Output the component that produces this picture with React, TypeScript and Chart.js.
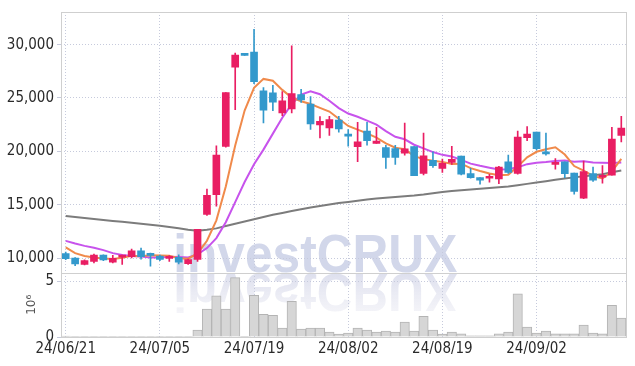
import React, { useEffect, useRef } from 'react';
import { Chart, registerables } from 'chart.js';

Chart.register(...registerables);

const dates = [
  '24/06/21', '24/06/24', '24/06/25', '24/06/26', '24/06/27', '24/06/28', '24/07/01', '24/07/02', '24/07/03', '24/07/04',
  '24/07/05', '24/07/08', '24/07/09', '24/07/10', '24/07/11', '24/07/12', '24/07/15', '24/07/16', '24/07/17', '24/07/18',
  '24/07/19', '24/07/22', '24/07/23', '24/07/24', '24/07/25', '24/07/26', '24/07/29', '24/07/30', '24/07/31', '24/08/01',
  '24/08/02', '24/08/05', '24/08/06', '24/08/07', '24/08/08', '24/08/09', '24/08/12', '24/08/13', '24/08/14', '24/08/16',
  '24/08/19', '24/08/20', '24/08/21', '24/08/22', '24/08/23', '24/08/26', '24/08/27', '24/08/28', '24/08/29', '24/08/30',
  '24/09/02', '24/09/03', '24/09/04', '24/09/05', '24/09/06', '24/09/09', '24/09/10', '24/09/11', '24/09/12', '24/09/13',
];

const opens = [
  10420, 10000, 9410, 9690, 10280, 9600, 10090, 10120, 10680, 10300,
  10185, 9970, 10060, 9475, 9880, 14080, 15930, 20470, 27890, 29060,
  29300, 25670, 25480, 23600, 23970, 25330, 24430, 22480, 22200, 22920,
  21500, 20440, 21900, 20750, 20350, 20260, 19830, 20440, 17940, 19150,
  18400, 18960, 19550, 17910, 17540, 17480, 17420, 19020, 17940, 21280,
  21800, 19950, 18780, 19020, 17970, 15620, 17910, 17570, 17760, 21490,
];
const highs = [
  10550, 10050, 9820, 10370, 10310, 10250, 10280, 10830, 10930, 10460,
  10280, 10220, 10310, 9900, 12690, 16460, 20510, 25510, 29220, 29060,
  31440, 25980, 26190, 25600, 29900, 25820, 25140, 23260, 23290, 23290,
  22050, 22730, 22730, 22240, 20570, 20570, 22640, 20440, 21710, 19950,
  19270, 20480, 19550, 18400, 17540, 17850, 18590, 19640, 21900, 22330,
  21800, 21710, 19330, 19020, 17970, 19080, 18530, 18660, 22240, 23290,
];
const lows = [
  9850, 9290, 9350, 9540, 9750, 9540, 9410, 10000, 9900, 9230,
  9750, 9690, 9440, 9410, 9690, 13990, 14850, 20400, 23900, 29000,
  26350, 22670, 23810, 23350, 23600, 24580, 22050, 21250, 21500, 21800,
  20480, 19020, 20570, 20750, 18400, 18780, 19640, 17720, 17790, 18500,
  18030, 18780, 17790, 17480, 16920, 17110, 16980, 17940, 17850, 21000,
  20130, 19640, 18340, 17540, 15990, 15560, 17170, 17010, 17760, 20880,
];
const closes = [
  9950, 9440, 9750, 10280, 9815, 9970, 10280, 10680, 10120, 10250,
  9880, 10120, 9600, 9845, 12690, 15870, 19640, 25510, 29030, 29000,
  26530, 23870, 24620, 24740, 25420, 24830, 22580, 22820, 22980, 22110,
  21430, 20880, 21000, 20970, 19420, 19420, 20230, 17720, 19580, 18650,
  18870, 19240, 17850, 17540, 17290, 17660, 18530, 18030, 21340, 21620,
  20260, 19760, 18930, 17910, 16240, 18100, 17290, 17760, 21150, 22180,
];
const volumes = [
  80000, 70000, 20000, 30000, 20000, 20000, 20000, 60000, 30000, 20000,
  20000, 20000, 30000, 50000, 620000, 2500000, 3700000, 2500000, 5330000, 10000,
  3730000, 2040000, 1950000, 800000, 3200000, 710000, 800000, 800000, 440000, 260000,
  360000, 800000, 620000, 440000, 530000, 440000, 1330000, 530000, 1860000, 620000,
  270000, 440000, 290000, 100000, 100000, 100000, 290000, 440000, 3880000, 890000,
  360000, 530000, 290000, 290000, 290000, 1070000, 360000, 290000, 2840000, 1690000,
];
const ma5 = [
  10990, 10460, 10190, 10060, 9950, 9900, 10020, 10200, 10170, 10260,
  10240, 10210, 9990, 9940, 10430, 11620, 13530, 16710, 20550, 23820,
  25950, 26790, 26620, 25760, 25040, 24700, 24440, 24080, 23730, 23060,
  22380, 22040, 21680, 21280, 20740, 20340, 20210, 19550, 19270, 19120,
  19010, 18810, 18840, 18430, 18160, 17920, 17770, 17810, 18570, 19440,
  19960, 20200, 20380, 19700, 18620, 18190, 17690, 17460, 18110, 19300,
];
const ma10 = [
  11610, 11360, 11140, 10960, 10740, 10460, 10280, 10190, 10150, 10050,
  10050, 10120, 10100, 10060, 10340, 10930, 11870, 13350, 15240, 17120,
  18790, 20160, 21660, 23150, 24430, 25320, 25620, 25350, 24740, 24050,
  23540, 23240, 22880, 22500, 21900, 21360, 21130, 20620, 20280, 19930,
  19670, 19510, 19200, 18850, 18640, 18460, 18290, 18320, 18500, 18800,
  18940, 18990, 19100, 19130, 19030, 19070, 18950, 18920, 18900, 18960,
];
const ma60 = [
  13930, 13840, 13750, 13660, 13570, 13480, 13390, 13300, 13210, 13120,
  13020, 12910, 12790, 12650, 12560, 12640, 12780, 13000, 13210, 13420,
  13630, 13850, 14050, 14230, 14410, 14580, 14730, 14880, 15020, 15150,
  15260, 15370, 15480, 15570, 15650, 15730, 15800, 15870, 15960, 16070,
  16180, 16280, 16350, 16420, 16490, 16570, 16640, 16710, 16830, 16950,
  17070, 17200, 17330, 17450, 17560, 17660, 17760, 17860, 18030, 18200,
];
const priceTicks = [10000, 15000, 20000, 25000, 30000];
const volumeTicks = [0, 5000000];

const UP = '#e91e63';
const DOWN = '#3399cc';
const GRID = '#c6cadc';
const FRAME = '#cfcfcf';
const TICK_FONT = { family: '"Liberation Sans Narrow", "DejaVu Sans Condensed", "Liberation Sans", sans-serif', size: 15 };

export default function App() {
  const ref = useRef<HTMLCanvasElement>(null);

  useEffect(() => {
    if (!ref.current) return;
    const candleColors = closes.map((c, i) => (c > opens[i] ? UP : DOWN));

    const watermark = {
      id: 'watermark',
      beforeDraw(chart: any) {
        const { ctx, chartArea } = chart;
        const y = chart.scales.y;
        const text = 'investCRUX';
        ctx.save();
        ctx.font = 'bold 53px "Liberation Sans", Arial, sans-serif';
        const m = ctx.measureText(text);
        const inkW = m.actualBoundingBoxLeft + m.actualBoundingBoxRight;
        const sx = 281 / inkW;
        const x0 = chartArea.left + 115;
        const base = y.bottom - 0.5;
        ctx.translate(x0, base);
        ctx.scale(sx, 1);
        ctx.textBaseline = 'alphabetic';
        ctx.fillStyle = '#d2d7ea';
        ctx.fillText(text, m.actualBoundingBoxLeft, 0);
        ctx.translate(0, 2);
        ctx.scale(1, -1);
        const g = ctx.createLinearGradient(0, 0, 0, -44);
        g.addColorStop(0, 'rgba(222,224,238,1)');
        g.addColorStop(1, 'rgba(240,240,246,0.6)');
        ctx.fillStyle = g;
        ctx.fillText(text, m.actualBoundingBoxLeft, 0);
        ctx.restore();
      },
    };

    const frames = {
      id: 'frames',
      afterDatasetsDraw(chart: any) {
        const { ctx, chartArea } = chart;
        const ys = [chart.scales.y, chart.scales.yVol];
        ctx.save();
        ctx.strokeStyle = FRAME;
        ctx.lineWidth = 1;
        ys.forEach((s: any) => {
          const t = Math.round(s.top) + 0.5;
          const b = Math.round(s.bottom) + 0.5;
          const l = Math.round(chartArea.left) + 0.5;
          const r = Math.round(chartArea.right) + 0.5;
          ctx.strokeRect(l, t, r - l, b - t);
        });
        ctx.restore();
      },
    };

    const chart = new Chart(ref.current, {
      data: {
        labels: dates,
        datasets: [
          {
            type: 'bar',
            label: 'wick',
            data: dates.map((_, i) => [lows[i], highs[i]]),
            backgroundColor: candleColors,
            barThickness: 1,
            grouped: false,
            yAxisID: 'y',
            order: 1,
          } as any,
          {
            type: 'bar',
            label: 'body',
            data: dates.map((_, i) => [opens[i], closes[i]]),
            backgroundColor: candleColors,
            barThickness: 7,
            minBarLength: 2,
            grouped: false,
            yAxisID: 'y',
            order: 0,
          } as any,
          {
            type: 'line',
            label: 'MA5',
            data: ma5,
            borderColor: '#f08a4b',
            borderWidth: 2,
            pointRadius: 0,
            tension: 0,
            yAxisID: 'y',
            order: 3,
          },
          {
            type: 'line',
            label: 'MA10',
            data: ma10,
            borderColor: '#c753ec',
            borderWidth: 2,
            pointRadius: 0,
            tension: 0,
            yAxisID: 'y',
            order: 4,
          },
          {
            type: 'line',
            label: 'MA60',
            data: ma60,
            borderColor: '#7c7c7c',
            borderWidth: 2,
            pointRadius: 0,
            tension: 0,
            yAxisID: 'y',
            order: 5,
          },
          {
            type: 'bar',
            label: 'volume',
            data: volumes,
            backgroundColor: '#d6d6d6',
            borderColor: '#b4b4b4',
            borderWidth: 1,
            barPercentage: 1,
            categoryPercentage: 1,
            grouped: false,
            yAxisID: 'yVol',
            order: 6,
          } as any,
        ],
      },
      options: {
        responsive: false,
        animation: false,
        layout: { padding: { left: 0, right: 9, top: 9, bottom: 0 } },
        plugins: { legend: { display: false }, tooltip: { enabled: false } },
        scales: {
          yVol: {
            type: 'linear',
            position: 'left',
            stack: 'panels',
            stackWeight: 1,
            min: 0,
            max: 5770000,
            afterBuildTicks: (s: any) => { s.ticks = volumeTicks.map((v) => ({ value: v })); },
            afterFit: (s: any) => { s.width = 61; },
            title: {
              display: true,
              text: '10⁶',
              color: '#555',
              font: { family: '"DejaVu Sans", sans-serif', size: 12 },
              padding: { top: 25, bottom: 0 },
            },
            ticks: {
              color: '#2a2a2a',
              font: TICK_FONT,
              padding: 3,
              callback: (v: any) => String(Math.round(Number(v) / 1000000)),
            },
            grid: { color: GRID, tickLength: 4, drawTicks: true },
            border: { display: false, dash: [1, 2] },
          },
          y: {
            type: 'linear',
            position: 'left',
            stack: 'panels',
            stackWeight: 4.05,
            min: 8630,
            max: 33060,
            afterBuildTicks: (s: any) => { s.ticks = priceTicks.map((v) => ({ value: v })); },
            afterFit: (s: any) => { s.width = 61; },
            ticks: {
              color: '#2a2a2a',
              font: TICK_FONT,
              padding: 3,
              callback: (v: any) => Number(v).toLocaleString('en-US'),
            },
            grid: { color: GRID, tickLength: 4, drawTicks: true },
            border: { display: false, dash: [1, 2] },
          },
          x: {
            type: 'category',
            offset: true,
            afterFit: (s: any) => { s.height = 29; },
            ticks: {
              autoSkip: false,
              maxRotation: 0,
              color: '#2a2a2a',
              font: TICK_FONT,
              padding: 3,
              callback: (_v: any, i: number) => (i % 10 === 0 ? dates[i] : null),
            },
            grid: { color: GRID, offset: false, drawTicks: false },
            border: { display: false, dash: [1, 2] },
          },
        },
      } as any,
      plugins: [watermark, frames],
    });
    return () => chart.destroy();
  }, []);

  return (
    <div style={{ position: 'fixed', left: 0, top: 0, width: 635, height: 366, background: '#fff' }}>
      <canvas ref={ref} width={635} height={366} style={{ display: 'block' }} />
    </div>
  );
}
